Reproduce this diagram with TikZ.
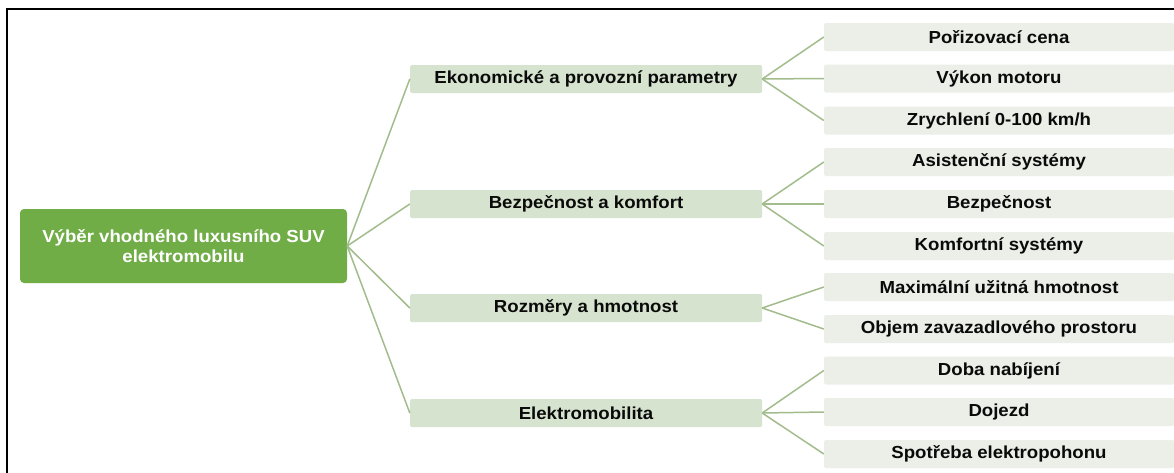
\documentclass[tikz,border=0pt]{standalone}
\usepackage{fontspec}
\setmainfont{Liberation Sans}[FakeStretch=1.07]
\definecolor{rootgreen}{HTML}{70AD47}
\definecolor{midfill}{HTML}{D6E4CF}
\definecolor{leaffill}{HTML}{EBEFE8}
\definecolor{linkcol}{HTML}{A3BC8C}
\definecolor{txt}{HTML}{0A0A0A}
\begin{document}
\begin{tikzpicture}[x=1pt,y=-1pt,
  rootbox/.style={fill=rootgreen,rounded corners=4pt,minimum width=327pt,minimum height=74pt,
    text=white,font=\fontsize{17.4}{20}\selectfont\bfseries,align=center,inner sep=0pt},
  midbox/.style={fill=midfill,rounded corners=1.5pt,minimum width=352pt,minimum height=28pt,
    text=txt,font=\fontsize{17.4}{20}\selectfont\bfseries,inner sep=0pt},
  leafbox/.style={fill=leaffill,rounded corners=1.5pt,minimum width=350pt,minimum height=28pt,
    text=txt,font=\fontsize{17.4}{20}\selectfont\bfseries,inner sep=0pt},
  link/.style={draw=linkcol,line width=1.5pt}]
\useasboundingbox (0,0) rectangle (1174,472);
\fill[white] (0,0) rectangle (1174,472);
\draw[line width=2pt,black] (1175,9) -- (7,9) -- (7,473);

\node[rootbox] (root) at (183.5,246) {Výběr vhodného luxusního SUV\\elektromobilu};

\node[midbox] (m1) at (586,79) {Ekonomické a provozní parametry};
\node[midbox] (m2) at (586,204) {Bezpečnost a komfort};
\node[midbox] (m3) at (586,308) {Rozměry a hmotnost};
\node[midbox] (m4) at (586,413) {Elektromobilita};

\node[leafbox] (l1) at (999,37) {Pořizovací cena};
\node[leafbox] (l2) at (999,78.5) {Výkon motoru};
\node[leafbox] (l3) at (999,120.5) {Zrychlení 0-100 km/h};
\node[leafbox] (l4) at (999,162) {Asistenční systémy};
\node[leafbox] (l5) at (999,204) {Bezpečnost};
\node[leafbox] (l6) at (999,246) {Komfortní systémy};
\node[leafbox] (l7) at (999,287) {Maximální užitná hmotnost};
\node[leafbox] (l8) at (999,329) {Objem zavazadlového prostoru};
\node[leafbox] (l9) at (999,370.5) {Doba nabíjení};
\node[leafbox] (l10) at (999,412) {Dojezd};
\node[leafbox] (l11) at (999,454) {Spotřeba elektropohonu};

\foreach \m in {m1,m2,m3,m4} \draw[link] (root.east) -- (\m.west);
\foreach \l in {l1,l2,l3} \draw[link] (m1.east) -- (\l.west);
\foreach \l in {l4,l5,l6} \draw[link] (m2.east) -- (\l.west);
\foreach \l in {l7,l8} \draw[link] (m3.east) -- (\l.west);
\foreach \l in {l9,l10,l11} \draw[link] (m4.east) -- (\l.west);
\end{tikzpicture}
\end{document}
